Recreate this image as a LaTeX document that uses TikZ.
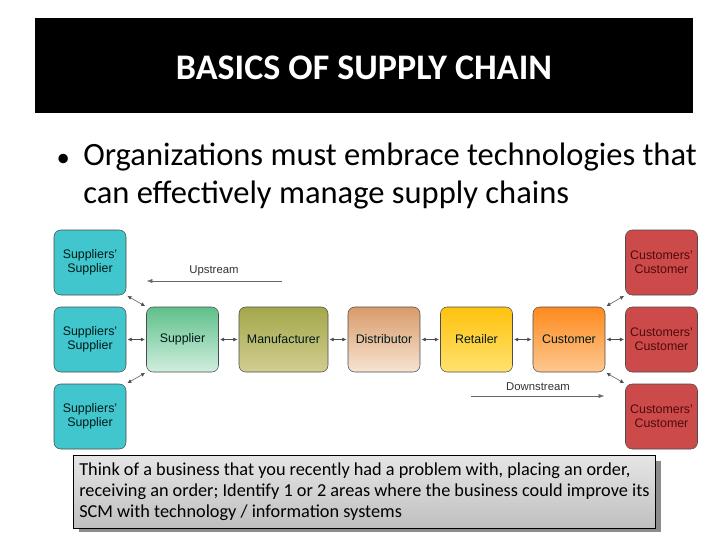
\documentclass[tikz,border=0pt]{standalone}
\usepackage{fontspec}
\setmainfont{Carlito}
\newfontfamily\boxfont{Liberation Sans}
\usetikzlibrary{arrows.meta}
\begin{document}
\begin{tikzpicture}[x=0.75pt,y=-0.75pt,
  bx/.style={draw=black!70,rounded corners=5pt,minimum width=54pt,minimum height=48.75pt,inner sep=0pt,align=center,font=\boxfont\fontsize{9.3}{10.5}\selectfont,text=black!80!teal},
  ss/.style={bx,fill={rgb,255:red,64;green,198;blue,204}},
  cc/.style={bx,fill={rgb,255:red,204;green,74;blue,74},text={rgb,255:red,80;green,10;blue,10}},
  lk/.style={{Latex[length=3pt,width=3pt]}-{Latex[length=3pt,width=3pt]},black!70,thin,shorten <=1pt,shorten >=1pt},
  fl/.style={-{Latex[length=4pt,width=3pt]},black!60,very thin}]
\useasboundingbox (0,0) rectangle (728,546);
\fill[white] (0,0) rectangle (728,546);
\fill[black] (35,18) rectangle (693,113);
\node[text=white,font=\bfseries\fontsize{27}{30}\selectfont] (title) at (364,68) {BASICS OF SUPPLY CHAIN};
\node[anchor=west,font=\fontsize{20}{22}\selectfont] (bul) at (52,160) {•};
\node[anchor=north west,align=left,inner sep=0pt,font=\fontsize{24.4}{28}\selectfont] (txt) at (83,143) {Organizations must embrace technologies that\\can effectively manage supply chains};
\node[ss] (s1) at (90,262.5) {Suppliers’\\Supplier};
\node[ss] (s2) at (90,339.5) {Suppliers’\\Supplier};
\node[ss] (s3) at (90,416.5) {Suppliers’\\Supplier};
\node[cc] (c1) at (661.5,262.5) {Customers’\\Customer};
\node[cc] (c2) at (661.5,339.5) {Customers’\\Customer};
\node[cc] (c3) at (661.5,416.5) {Customers’\\Customer};
\node[bx,top color={rgb,255:red,95;green,192;blue,138},bottom color={rgb,255:red,208;green,238;blue,223}] (sup) at (182.5,339.5) {Supplier};
\node[bx,minimum width=66.75pt,top color={rgb,255:red,163;green,168;blue,74},bottom color={rgb,255:red,210;green,205;blue,145}] (man) at (283.5,339.5) {Manufacturer};
\node[bx,top color={rgb,255:red,217;green,155;blue,106},bottom color={rgb,255:red,246;green,228;blue,210}] (dis) at (384,339.5) {Distributor};
\node[bx,top color={rgb,255:red,255;green,194;blue,14},bottom color={rgb,255:red,255;green,226;blue,110}] (ret) at (476.5,339.5) {Retailer};
\node[bx,top color={rgb,255:red,255;green,138;blue,30},bottom color={rgb,255:red,253;green,200;blue,145}] (cus) at (569,339.5) {Customer};
\draw[lk] (s1.south east) -- (sup.north west);
\draw[lk] (s2) -- (sup);
\draw[lk] (s3.north east) -- (sup.south west);
\draw[lk] (sup) -- (man);
\draw[lk] (man) -- (dis);
\draw[lk] (dis) -- (ret);
\draw[lk] (ret) -- (cus);
\draw[lk] (cus.north east) -- (c1.south west);
\draw[lk] (cus) -- (c2);
\draw[lk] (cus.south east) -- (c3.north west);
\coordinate (u1) at (282,281); \coordinate (u2) at (147,281);
\draw[fl] (u1) -- (u2);
\node[font=\boxfont\fontsize{8.5}{9}\selectfont,text=black!80] (up) at (214,271) {Upstream};
\coordinate (d1) at (471,396); \coordinate (d2) at (604,396);
\draw[fl] (d1) -- (d2);
\node[font=\boxfont\fontsize{8.5}{9}\selectfont,text=black!80] (down) at (538,387) {Downstream};
\fill[black!45] (79,461) rectangle (661,532);
\node[draw=black,anchor=north west,minimum width=436.5pt,minimum height=54.75pt,inner sep=0pt,top color=black!10,bottom color=black!25] (q) at (73,455) {};
\node[anchor=north west,align=left,inner sep=0pt,font=\fontsize{13.7}{15.5}\selectfont] (qt) at (79,463) {Think of a business that you recently had a problem with, placing an order,\\receiving an order; Identify 1 or 2 areas where the business could improve its\\SCM with technology / information systems};
\end{tikzpicture}
\end{document}
